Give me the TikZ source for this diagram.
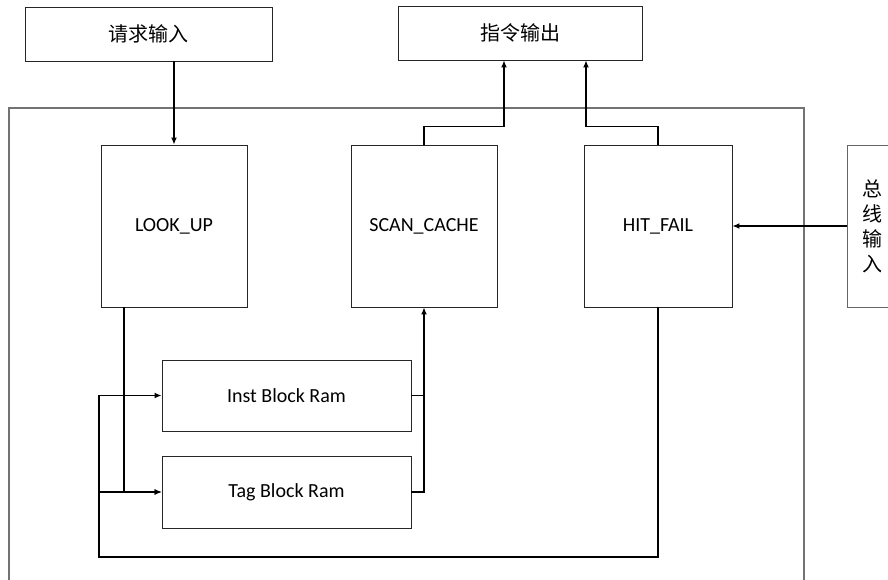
\documentclass[tikz,border=0pt]{standalone}
\usepackage{fontspec}
\setmainfont{Carlito}
\newfontfamily\cjk{Noto Sans CJK SC}
\usetikzlibrary{arrows.meta}
\tikzset{
    block/.style={draw=black!85, line width=0.9pt, fill=white, inner sep=0pt,
        font=\fontsize{20}{25}\selectfont},
    link/.style={line width=1.3pt, -{Latex[length=7pt,width=6pt]}},
    wire/.style={line width=1.3pt},
}

\begin{document}
\begin{tikzpicture}[x=1pt,y=-1pt]
\useasboundingbox (0,0) rectangle (888,580);
\draw[black!55, line width=1.2pt] (9,108) rectangle (804,620);

\node[block, minimum width=247pt, minimum height=54pt] (req) at (148.5,34) {\cjk 请求输入};
\node[block, minimum width=244pt, minimum height=54pt] (out) at (520,33) {\cjk 指令输出};

\node[block, minimum width=146pt, minimum height=162pt] (lookup) at (174,226) {LOOK\_UP};
\node[block, minimum width=146pt, minimum height=162pt] (scan) at (424,226) {SCAN\_CACHE};
\node[block, minimum width=148pt, minimum height=162pt] (hitfail) at (658,226) {HIT\_FAIL};
\node[block, draw=black!60, minimum width=50pt, minimum height=162pt, align=center] (bus) at (872,226)
    {\cjk 总\\ \cjk 线\\ \cjk 输\\ \cjk 入};

\node[block, minimum width=249pt, minimum height=71pt] (inst) at (286.5,395.5) {Inst Block Ram};
\node[block, minimum width=249pt, minimum height=72pt] (tag) at (286.5,492) {Tag Block Ram};

\coordinate (loop) at (99,557);

% connectors
\draw[link] (lookup.north |- req.south) -- (lookup.north);
\draw[link] (scan.north) -- ++(0,-18) -| ([xshift=-16pt]out.south);
\draw[link] (hitfail.north) -- ++(0,-18) -| ([xshift=66pt]out.south);
\draw[link] (bus.west) -- (hitfail.east);
\draw[link] ([xshift=-50pt]lookup.south) |- (tag.west);
\draw[link] (hitfail.south) |- (loop) |- (inst.west);
\draw[link] (loop |- tag.west) -- (tag.west);
\draw[wire] (inst.east) -- (inst.east -| scan.south);
\draw[link] (tag.east) -| (scan.south);
\end{tikzpicture}
\end{document}
